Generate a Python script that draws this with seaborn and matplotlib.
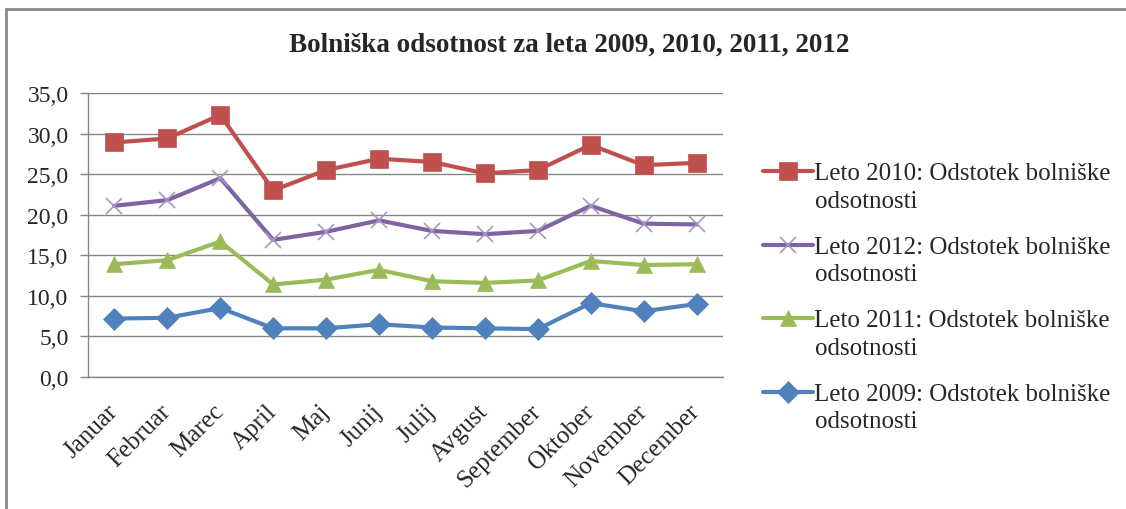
import matplotlib
matplotlib.use("Agg")
import matplotlib.pyplot as plt
import matplotlib.lines as mlines
import seaborn as sns
import pandas as pd

# Monthly sick-leave share (%) per year
months = ["Januar", "Februar", "Marec", "April", "Maj", "Junij",
          "Julij", "Avgust", "September", "Oktober", "November", "December"]
leto_2010 = [28.9, 29.4, 32.3, 23.0, 25.5, 26.9, 26.5, 25.1, 25.5, 28.6, 26.1, 26.4]
leto_2012 = [21.1, 21.8, 24.5, 16.9, 17.9, 19.3, 18.0, 17.6, 18.0, 21.1, 18.9, 18.8]
leto_2011 = [13.9, 14.4, 16.7, 11.4, 12.0, 13.2, 11.8, 11.6, 11.9, 14.3, 13.8, 13.9]
leto_2009 = [7.2, 7.3, 8.5, 6.0, 6.0, 6.5, 6.1, 6.0, 5.9, 9.1, 8.1, 9.0]

series_labels = [
    "Leto 2010: Odstotek bolniške\nodsotnosti",
    "Leto 2012: Odstotek bolniške\nodsotnosti",
    "Leto 2011: Odstotek bolniške\nodsotnosti",
    "Leto 2009: Odstotek bolniške\nodsotnosti",
]
series_values = [leto_2010, leto_2012, leto_2011, leto_2009]
yticks = [0, 5, 10, 15, 20, 25, 30, 35]
title = "Bolniška odsotnost za leta 2009, 2010, 2011, 2012"

colors = ["#C0504D", "#8064A2", "#9BBB59", "#4F81BD"]
markers = ["s", "x", "^", "D"]
msizes = [12.5, 12, 12, 11.5]
lw = 3.0
x_edge = "#A597C6"

rows = []
for lab, vals in zip(series_labels, series_values):
    for m, v in zip(months, vals):
        rows.append({"Mesec": m, "Vrednost": v, "Serija": lab})
df = pd.DataFrame(rows)

sns.set_theme(style="white")
plt.rcParams["font.family"] = ["Liberation Serif", "DejaVu Serif"]

fig = plt.figure(figsize=(11.26, 5.10), dpi=100)
ax = fig.add_axes([88 / 1126, 1 - 378 / 510, (723 - 88) / 1126, (378 - 94) / 510])

# draw bottom series first so upper ones sit on top
for lab, col, mk, ms in reversed(list(zip(series_labels, colors, markers, msizes))):
    sub = df[df["Serija"] == lab]
    sns.lineplot(data=sub, x="Mesec", y="Vrednost", ax=ax, color=col,
                 linewidth=lw, marker=mk, markersize=ms,
                 markeredgewidth=1.2 if mk == "x" else 0.5,
                 markeredgecolor=(x_edge if mk == "x" else col),
                 sort=False, legend=False, zorder=3)

ax.set_xlim(-0.5, len(months) - 0.5)
ax.set_ylim(0, 35)
ax.set_yticks(yticks)
ax.set_yticklabels([f"{v:.1f}".replace(".", ",") for v in yticks], fontsize=17)
ax.set_xticks(range(len(months)))
ax.set_xticklabels(months, rotation=45, ha="right", va="center",
                   rotation_mode="anchor", fontsize=18)
ax.tick_params(axis="y", length=6, width=1, color="#868686", pad=8, left=True)
ax.tick_params(axis="x", length=0, pad=22)
ax.set_xlabel("")
ax.set_ylabel("")
ax.grid(axis="y", color="#868686", linewidth=1)
ax.grid(axis="x", visible=False)
ax.set_axisbelow(True)
for s in ["top", "right"]:
    ax.spines[s].set_visible(False)
for s in ["left", "bottom"]:
    ax.spines[s].set_color("#868686")
    ax.spines[s].set_linewidth(1)

handles = [mlines.Line2D([], [], color=c, marker=m, markersize=ms, linewidth=lw,
                         markeredgecolor=(x_edge if m == "x" else c),
                         markeredgewidth=1.2 if m == "x" else 0.5)
           for c, m, ms in zip(colors, markers, msizes)]
leg = fig.legend(handles, series_labels, loc="upper left",
                 bbox_to_anchor=(740 / 1126, 1 - 141 / 510), frameon=False,
                 fontsize=18, handlelength=2.0, handletextpad=0.08,
                 labelspacing=0.96)
for t in leg.get_texts():
    t.set_linespacing(1.32)
# keep each handle level with the first text line
for col_box in leg._legend_handle_box.get_children():
    for item in col_box.get_children():
        item.align = "top"

fig.suptitle(title, x=569 / 1126, y=1 - 45 / 510, va="center",
             fontsize=19.5, fontweight="bold")

# chart area frame (top and left edges)
fig.add_artist(mlines.Line2D([6 / 1126, 6 / 1126], [0, 1 - 10 / 510],
                             transform=fig.transFigure, color="#8A8A8A", linewidth=2))
fig.add_artist(mlines.Line2D([6 / 1126, 1], [1 - 10 / 510, 1 - 10 / 510],
                             transform=fig.transFigure, color="#8A8A8A", linewidth=2))

fig.savefig("out.png", dpi=100, facecolor="white")
